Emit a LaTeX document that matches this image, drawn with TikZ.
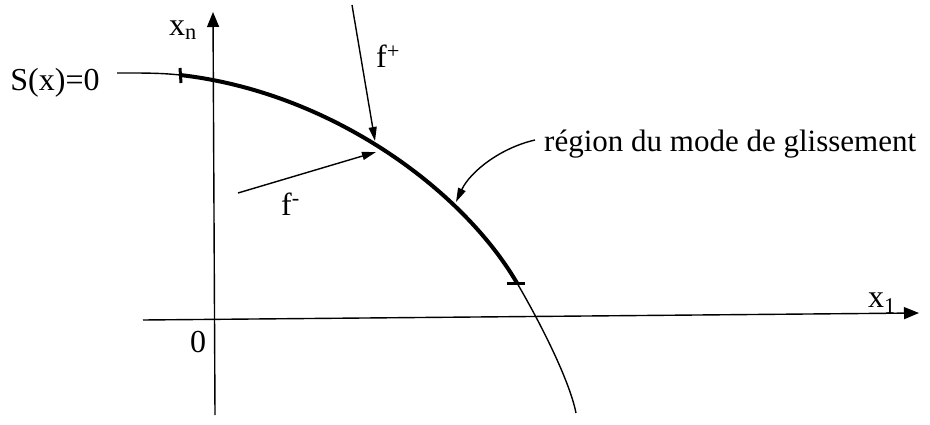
\documentclass[tikz,border=0pt]{standalone}
\usepackage{fontspec}
\setmainfont{Liberation Serif}
\usetikzlibrary{arrows.meta}
\tikzset{
  axisline/.style={line width=1.4pt, -{Triangle[length=15pt,width=12pt]}},
  vecline/.style={line width=1.4pt, -{Triangle[length=14pt,width=8pt]}},
  thincurve/.style={line width=1.4pt},
  thickcurve/.style={line width=4pt},
  tickmark/.style={line width=3pt},
  lbl/.style={inner sep=0pt, font=\fontsize{32}{38}\selectfont},
  bigtext/.style={inner sep=0pt, font=\fontsize{31}{37}\selectfont},
}
\begin{document}
\begin{tikzpicture}[x=1pt,y=-1pt]
\useasboundingbox (0,0) rectangle (930,425);
% coordinates
\coordinate (xs) at (143,320);
\coordinate (xe) at (919,313);
\coordinate (ys) at (215,415);
\coordinate (ye) at (213,12);
\coordinate (fpS) at (352,5);
\coordinate (fpE) at (375,141);
\coordinate (fmS) at (238,193);
\coordinate (fmE) at (376,152);
\coordinate (rA) at (535,140);
\coordinate (rB) at (456,202);
\coordinate (c0) at (117,73);
\coordinate (c1) at (180,75);
\coordinate (c2) at (517,283);
\coordinate (c3) at (576,413);
\coordinate (t1a) at (180,68);
\coordinate (t1b) at (181,83);
\coordinate (t2a) at (507,283);
\coordinate (t2b) at (525,283);
% axes
\draw[axisline] (xs) -- (xe);
\draw[axisline] (ys) -- (ye);
% surface S(x)=0
\draw[thincurve] (c0) .. controls (140,73) and (160,72.8) .. (c1)
  .. controls (330,92) and (462,189) .. (c2)
  .. controls (537,317) and (569,378) .. (c3);
\draw[thickcurve] (c1) .. controls (330,92) and (462,189) .. (c2);
\draw[tickmark] (t1a) -- (t1b);
\draw[tickmark] (t2a) -- (t2b);
% vector fields
\draw[vecline] (fpS) -- (fpE);
\draw[vecline] (fmS) -- (fmE);
% region label arrow
\draw[vecline] (rA) .. controls (500,148) and (470,172) .. (rB);
% labels
\node[lbl, anchor=base] (S) at (55,91) {S(x)=0};
\node[lbl, anchor=base] (xn) at (183,36) {x\textsubscript{n}};
\node[lbl, anchor=base] (x1) at (882,307) {x\textsubscript{1}};
\node[lbl, anchor=base] (zero) at (198,352) {0};
\node[lbl, anchor=base west] (fp) at (376,68) {f\textsuperscript{+}};
\node[lbl, anchor=base west] (fm) at (281,215) {f\textsuperscript{-}};
\node[bigtext, anchor=base west] (reg) at (544,152) {région du mode de glissement};
\end{tikzpicture}
\end{document}
